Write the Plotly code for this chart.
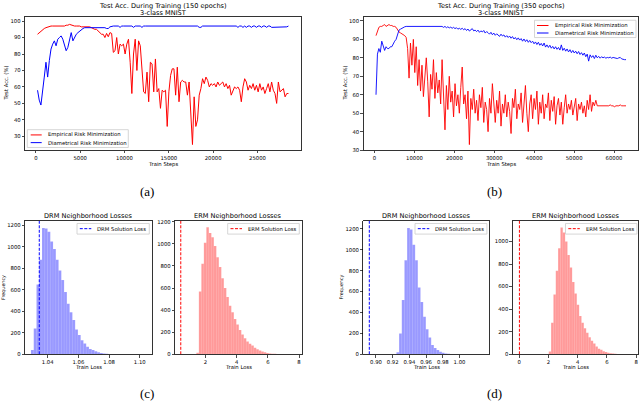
import plotly.graph_objects as go

# ---------------- data ----------------
# (a) 150 epochs, one log point per epoch
epochs_a = list(range(1, 151))
steps_per_log_a = 190
erm_acc_a = [92, 93, 94, 95, 95.5, 96, 96.5, 97, 97, 97,
             97, 97, 97, 97, 97, 97, 97, 97.5, 97.5, 98,
             97.5, 97, 97, 97, 97, 97, 96.5, 96.5, 96.5, 96.5,
             96.5, 96.5, 96, 95.5, 95, 95, 94, 93, 92, 92,
             90, 92.5, 90.5, 93, 92.5, 81, 82, 90, 80, 86,
             85, 86, 80, 86, 89, 75, 56, 80, 89, 70,
             88, 85, 70, 57, 56, 69, 51, 75, 74, 57,
             77, 57, 59, 47, 58, 57, 58, 36, 57, 67,
             71, 71, 55, 72, 51, 63, 64, 63, 63, 55,
             63, 40, 25, 54, 36, 40, 55, 59, 65, 62,
             66, 64, 60, 62, 61, 62, 60, 63, 61, 62,
             63, 60, 62, 59, 61, 55, 58, 60, 59, 60,
             58, 51, 60, 65, 63, 58, 61, 59, 62, 58,
             61, 57, 62, 58, 60, 56, 59, 62, 57, 63,
             58, 56, 50, 63, 57, 58, 59, 54, 56, 56]
drm_acc_a = [58, 52, 49, 56, 66, 75, 66, 76, 83, 86,
             88, 85, 89, 90, 91, 89, 86, 82, 84, 88,
             93, 88, 90, 92, 93, 94, 95, 95.5, 96, 96,
             96, 96, 96, 96, 96, 96, 96, 96, 96, 96,
             96, 95.5, 95.5, 96.5, 97, 97, 97, 97, 97, 96.2,
             97, 97, 97, 97, 97, 97, 97, 96.2, 97, 97,
             97, 97, 96.2, 97, 97, 97, 97, 97, 97, 97,
             97, 97, 97, 97, 97, 97, 97, 97, 97, 97,
             97, 97, 97, 97, 97, 97, 97, 97, 97, 97,
             97, 97, 97, 97, 97, 97, 96.2, 96.2, 97, 97,
             97, 97, 97, 97, 97, 97, 97, 97, 97, 97,
             97, 97, 97, 97, 97, 97, 97, 97, 97, 96.2,
             97, 97, 96.2, 97, 96.2, 97, 97, 96.2, 97, 97,
             96.2, 97, 97, 96.2, 97, 97, 96.2, 97, 97, 96.2,
             96.2, 96.2, 96.2, 96.2, 96.2, 96.2, 96.2, 96.2, 96.5, 97]

# (b) 350 epochs, one log point every two epochs
epochs_b = list(range(1, 176))
steps_per_log_b = 360
erm_acc_b = [92, 94, 96.5, 97, 97, 97.5, 98, 97, 97.5, 98,
             97.5, 97.5, 97, 97, 96.5, 95, 94, 93.5, 93, 92.5,
             92, 91, 85, 69, 88, 76, 90, 72, 86, 65,
             79, 62, 76, 59, 72, 80, 67, 48, 71, 63,
             79, 58, 72, 61, 68, 55, 79, 60, 41, 65,
             52, 70, 56, 62, 48, 66, 54, 60, 50, 64,
             75, 55, 60, 47, 62, 33, 58, 52, 63, 50,
             57, 46, 60, 53, 64, 45, 56, 52, 40, 58,
             50, 66, 53, 45, 57, 50, 62, 43, 55, 50,
             60, 48, 56, 51, 39, 58, 53, 63, 47, 55,
             52, 61, 45, 57, 65, 50, 40, 55, 60, 47,
             58, 52, 62, 44, 56, 50, 60, 47, 55, 53,
             61, 46, 57, 51, 59, 44, 54, 58, 49, 56,
             44, 53, 60, 50, 55, 52, 57, 49, 54, 58,
             46, 55, 52, 56, 50, 54, 48, 57, 52, 60,
             51, 56, 54, 57, 54, 54, 54, 54, 54, 54,
             54, 54, 54, 54.5, 54, 54, 53.5, 54, 54, 54,
             54.5, 54, 54, 54, 54]
drm_acc_b = [60, 82, 85, 83, 89, 86, 84, 86, 85, 85,
             86, 86, 88, 89, 90, 93, 95, 95.5, 96, 96.5,
             96.8, 97, 97, 96.8, 97, 97, 97, 96.8, 97, 97,
             97, 97, 97, 96.8, 97, 97, 97, 97, 97, 97,
             97, 97, 96.8, 97, 97, 97, 97,
             96.5, 97, 96.3, 96.8, 96.2, 96.6, 96, 96.5, 95.8, 96.3,
             95.5, 96, 95.4, 96, 95.2, 95.8, 94.8, 95.6, 94.5, 95.3,
             95.8, 94.6, 95, 94.2, 95, 93.8, 94.6, 94, 94.8, 93.4,
             94.2, 93.6, 92.8, 93.8, 92.5, 93.4, 92.2, 93, 92.4, 91.6,
             92.8, 91.8, 92.4, 91.2, 92, 91, 91.8, 90.6, 91.5, 90.2,
             91, 89.8, 90.8, 89.6, 90.4, 89, 90.2, 88.8, 89.8, 88.4,
             89.4, 88.2, 89, 87.6, 88.6, 87.2, 88.4, 86.8, 87.8, 86.4,
             88, 85.8, 87, 85.6, 86.8, 85.2, 86.2, 84.8, 86, 84.6,
             85.6, 84.2, 87, 84, 85.2, 83.6, 84.8, 83.2, 84.4, 82.8,
             84, 82.6, 83.6, 82.2, 83.4, 81.8, 82.8, 81.4, 82.6, 80.6,
             82, 78.2, 81.6, 80.2, 81.2, 79.6, 81.4, 80, 80.8, 79.8,
             80.6, 80, 80.4, 79.8, 80.2, 80, 80.4, 79.8, 80.2, 80,
             80, 79.6, 80, 80.2, 79.4, 79, 79, 79]

# histograms (bin start, bin width, counts)
drm_c_start, drm_c_width = 1.0291, 0.0018
drm_c_counts = [40, 240, 650, 880, 1175, 1170, 1140, 1050, 980, 880, 780, 690, 580, 470,
                390, 320, 230, 180, 130, 100, 70, 50, 40, 28, 20, 12, 8, 5, 3, 2, 2, 1,
                1, 0, 1, 0, 0, 1, 0, 0, 1, 1]
drm_c_solution = 1.0345
erm_c_start, erm_c_width = 1.42, 0.16
erm_c_counts = [15, 570, 820, 1010, 1150, 1100, 1060, 980, 880, 790, 690, 600, 520, 440,
                380, 320, 270, 220, 180, 145, 115, 95, 80, 60, 45, 35, 25, 18, 12, 8, 5,
                4, 3, 2, 2, 1, 1, 1, 1, 1]
erm_c_solution = 0.42
drm_d_start, drm_d_width = 0.9245, 0.0032
drm_d_counts = [20, 200, 520, 900, 1210, 1195, 1050, 900, 640, 500, 360, 240, 160, 90, 60,
                40, 25, 15, 8, 5, 3, 2, 1, 1, 0, 1, 0, 0, 1, 0, 0, 0, 1, 1]
drm_d_solution = 0.892
erm_d_start, erm_d_width = 2.02, 0.16
erm_d_counts = [25, 280, 530, 740, 940, 1125, 1080, 1000, 880, 770, 640, 540, 440, 340,
                280, 230, 190, 150, 120, 95, 70, 50, 40, 28, 20, 14, 10, 6, 4, 3, 2, 2,
                1, 1, 1, 1]
erm_d_solution = 0.01

acc_ticks = [30, 40, 50, 60, 70, 80, 90, 100]
steps_ticks_a = [0, 5000, 10000, 15000, 20000, 25000]
steps_ticks_b = [0, 10000, 20000, 30000, 40000, 50000, 60000]
freq_ticks = [0, 200, 400, 600, 800, 1000, 1200]
drm_c_ticks = [1.04, 1.06, 1.08, 1.10]
drm_d_ticks = [0.90, 0.92, 0.94, 0.96, 0.98, 1.00]
erm_c_ticks = [2, 4, 6, 8]
erm_d_ticks = [0, 2, 4, 6, 8]

# ---------------- figure ----------------
W, H = 640, 404
FONT = "DejaVu Sans"
RED, BLUE = "#ff0000", "#0000ff"
RED_H, BLUE_H = "rgba(255,0,0,0.4)", "rgba(0,0,255,0.4)"


def fx(p):
    return p / W


def fy(p):
    return 1 - p / H


fig = go.Figure()

xa = [steps_per_log_a * e for e in epochs_a]
xb = [steps_per_log_b * e for e in epochs_b]
fig.add_trace(go.Scatter(x=xa, y=erm_acc_a, mode="lines", line=dict(color=RED, width=1),
                         xaxis="x", yaxis="y", showlegend=False))
fig.add_trace(go.Scatter(x=xa, y=drm_acc_a, mode="lines", line=dict(color=BLUE, width=1),
                         xaxis="x", yaxis="y", showlegend=False))
fig.add_trace(go.Scatter(x=xb, y=erm_acc_b, mode="lines", line=dict(color=RED, width=0.9),
                         xaxis="x2", yaxis="y2", showlegend=False))
fig.add_trace(go.Scatter(x=xb, y=drm_acc_b, mode="lines", line=dict(color=BLUE, width=0.9),
                         xaxis="x2", yaxis="y2", showlegend=False))

hists = [
    (drm_c_start, drm_c_width, drm_c_counts, drm_c_solution, BLUE_H, BLUE, "x3", "y3", 1240),
    (erm_c_start, erm_c_width, erm_c_counts, erm_c_solution, RED_H, RED, "x4", "y4", 1208),
    (drm_d_start, drm_d_width, drm_d_counts, drm_d_solution, BLUE_H, BLUE, "x5", "y5", 1277),
    (erm_d_start, erm_d_width, erm_d_counts, erm_d_solution, RED_H, RED, "x6", "y6", 1182),
]
for start, w, counts, sol, fill, lc, xr, yr, ytop in hists:
    edges = [start + w * k for k in range(len(counts))]
    fig.add_trace(go.Bar(x=edges, y=counts, width=w, offset=0,
                         marker=dict(color=fill, line=dict(color="rgba(255,255,255,0.3)", width=0.25)),
                         xaxis=xr, yaxis=yr, showlegend=False, hoverinfo="skip"))
    fig.add_trace(go.Scatter(x=[sol, sol], y=[0, ytop], mode="lines",
                             line=dict(color=lc, width=1, dash="3px,1.5px"),
                             xaxis=xr, yaxis=yr, showlegend=False))


def ax(domain_px, rng, tickvals, ticktext, anchor, is_x):
    if is_x:
        dom = [fx(domain_px[0]), fx(domain_px[1])]
    else:
        dom = [fy(domain_px[1]), fy(domain_px[0])]
    return dict(domain=dom, range=rng, tickvals=tickvals, ticktext=ticktext, anchor=anchor,
                showline=True, mirror=True, linecolor="black", linewidth=0.8,
                ticks="outside", ticklen=2.5, tickwidth=0.7, tickcolor="black",
                showgrid=False, zeroline=False,
                tickfont=dict(family=FONT, size=5.3, color="black"))


top_y = (15, 150)
hist_y = (221.7, 356.7)
acc_text = [str(t) for t in acc_ticks]
freq_text = [str(t) for t in freq_ticks]

fig.update_layout(
    width=W, height=H, margin=dict(l=0, r=0, t=0, b=0),
    paper_bgcolor="white", plot_bgcolor="white", showlegend=False,
    font=dict(family=FONT, color="black"),
    xaxis=ax((25, 301), [-1225, 29915], steps_ticks_a, [str(t) for t in steps_ticks_a], "y", True),
    yaxis=ax(top_y, [21.6, 102.6], acc_ticks, acc_text, "x", False),
    xaxis2=ax((363.5, 638.5), [-2772, 66132], steps_ticks_b, [str(t) for t in steps_ticks_b], "y2", True),
    yaxis2=ax(top_y, [30, 102.2], acc_ticks, acc_text, "x2", False),
    xaxis3=ax((25, 151.7), [1.0252, 1.1078], drm_c_ticks, ["%.2f" % t for t in drm_c_ticks], "y3", True),
    yaxis3=ax(hist_y, [0, 1240], freq_ticks, freq_text, "x3", False),
    xaxis4=ax((175, 301.7), [0.05, 8.17], erm_c_ticks, [str(t) for t in erm_c_ticks], "y4", True),
    yaxis4=ax(hist_y, [0, 1208], freq_ticks, freq_text, "x4", False),
    xaxis5=ax((363.3, 489.3), [0.8848, 1.0357], drm_d_ticks, ["%.2f" % t for t in drm_d_ticks], "y5", True),
    yaxis5=ax(hist_y, [0, 1277], freq_ticks, freq_text, "x5", False),
    xaxis6=ax((512.7, 638.3), [-0.45, 8.15], erm_d_ticks, [str(t) for t in erm_d_ticks], "y6", True),
    yaxis6=ax(hist_y, [0, 1182], freq_ticks[:-1], freq_text[:-1], "x6", False),
)

ann = []


def text(x, y, s, size=5.3, angle=0, xanchor="center", family=FONT):
    ann.append(dict(x=fx(x), y=fy(y), xref="paper", yref="paper", text=s, showarrow=False,
                    xanchor=xanchor, yanchor="middle", textangle=angle,
                    font=dict(family=family, size=size, color="black")))


# titles
text(163, 4.5, "Test Acc. During Training (150 epochs)", 6.6)
text(163, 11.2, "3-class MNIST", 6.6)
text(501, 4.5, "Test Acc. During Training (350 epochs)", 6.6)
text(501, 11.2, "3-class MNIST", 6.6)
text(88.3, 216.5, "DRM Neighborhood Losses", 6.6)
text(238.3, 216.5, "ERM Neighborhood Losses", 6.6)
text(426.3, 216.5, "DRM Neighborhood Losses", 6.6)
text(575.5, 216.5, "ERM Neighborhood Losses", 6.6)
# axis labels
text(163, 164.5, "Train Steps")
text(501, 164.5, "Train Steps")
text(6, 82.5, "Test Acc. (%)", angle=-90)
text(345, 82.5, "Test Acc. (%)", angle=-90)
for cx in (88.3, 238.3, 426.3, 575.5):
    text(cx, 370, "Train Loss")
text(3.5, 289, "Frequency", 4.8, angle=-90)
text(341, 289, "Frequency", 4.8, angle=-90)
# sub-captions
for cx, cy, s in ((147, 191.7, "(a)"), (494, 191.7, "(b)"), (147, 396, "(c)"), (494, 396, "(d)")):
    text(cx, cy, s, 13, family="Liberation Serif")

# legends (drawn like matplotlib legend boxes)
shapes = []


def legend_box(x0, y0, x1, y1):
    shapes.append(dict(type="rect", xref="paper", yref="paper", x0=fx(x0), x1=fx(x1), y0=fy(y1), y1=fy(y0),
                       line=dict(color="#cccccc", width=0.8), fillcolor="rgba(255,255,255,0.85)", layer="above"))


def legend_item(x0, x1, y, color, label, dash="solid"):
    shapes.append(dict(type="line", xref="paper", yref="paper", x0=fx(x0), x1=fx(x1), y0=fy(y), y1=fy(y),
                       line=dict(color=color, width=1, dash=dash), layer="above"))
    text(x1 + 4, y, label, 5.3, xanchor="left")


legend_box(27.3, 129.3, 128.3, 147.3)
legend_item(30.7, 41.7, 134.6, RED, "Empirical Risk Minimization")
legend_item(30.7, 41.7, 142.4, BLUE, "Diametrical Risk Minimization")
legend_box(534.5, 18.5, 636, 36)
legend_item(537, 548.5, 23.8, RED, "Empirical Risk Minimization")
legend_item(537, 548.5, 31.4, BLUE, "Diametrical Risk Minimization")
for bx0, bx1, col, lab in ((77, 149.3, BLUE, "DRM Solution Loss"), (227.7, 299.3, RED, "ERM Solution Loss"),
                           (415, 486.9, BLUE, "DRM Solution Loss"), (565.5, 636.9, RED, "ERM Solution Loss")):
    legend_box(bx0, 224.3, bx1, 235)
    legend_item(bx0 + 2.8, bx0 + 14.3, 229.5, col, lab, dash="3px,1.5px")

fig.update_layout(annotations=ann, shapes=shapes)
fig.write_html("out.html", config={"displayModeBar": False, "staticPlot": True},
               post_script="document.body.style.margin='0';document.body.style.overflow='hidden';")
